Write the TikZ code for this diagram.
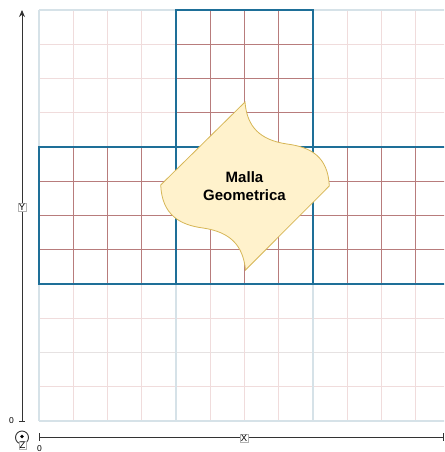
\documentclass[tikz,border=0pt]{standalone}
\usepackage{fontspec}
\setmainfont{Liberation Sans}
\usetikzlibrary{arrows.meta}
\definecolor{crossblue}{HTML}{1E6F98}
\definecolor{gridred}{HTML}{F0DCDC}
\definecolor{gridmaj}{HTML}{D6E2E8}
\definecolor{gridgrey}{HTML}{E6E2E2}
\definecolor{innerred}{HTML}{B87C7C}
\definecolor{shapefill}{HTML}{FFF2CC}
\definecolor{shapeline}{HTML}{D6B656}
\tikzset{
  minorline/.style={draw=gridred, line width=0.9pt},
  majorline/.style={draw=gridmaj, line width=1.4pt},
  greyline/.style={draw=gridgrey, line width=1.4pt},
  innerline/.style={draw=innerred, line width=1pt},
  crossline/.style={draw=crossblue, line width=2.9pt},
  axisline/.style={draw=black!80, line width=0.9pt},
  axlabel/.style={draw=gray!60, fill=white, inner sep=0.7pt, font=\fontsize{9.5}{10}\selectfont},
  ticklabel/.style={inner sep=0pt, font=\fontsize{8.5}{9}\selectfont},
  blob/.style={fill=shapefill, draw=shapeline, line width=0.8pt},
}
\begin{document}
\begin{tikzpicture}[x=1pt,y=-1pt]
\useasboundingbox (0,0) rectangle (444,452);
\begin{scope}
\clip (0,0) rectangle (444,452);
% background grid
\foreach \j in {1,...,11} {\draw[minorline] (39,10+34.25*\j) -- (460,10+34.25*\j);}
\draw[greyline] (39,352.5) -- (460,352.5);
\foreach \i in {1,2,3,5,6,7,9,10,11} {\draw[minorline] (39+34.25*\i,10) -- (39+34.25*\i,421);}
\draw[majorline] (39,10) -- (460,10);
\draw[majorline] (39,421) -- (460,421);
\draw[majorline] (39,10) -- (39,421);
\draw[majorline] (176,10) -- (176,421);
\draw[majorline] (313,10) -- (313,421);
% inner lines of the cross
\foreach \i in {5,6,7} {\draw[innerline] (39+34.25*\i,10) -- (39+34.25*\i,284);}
\foreach \j in {1,2,3} {\draw[innerline] (176,10+34.25*\j) -- (313,10+34.25*\j);}
\foreach \j in {5,6,7} {\draw[innerline] (39,10+34.25*\j) -- (460,10+34.25*\j);}
\foreach \i in {1,2,3,9,10,11} {\draw[innerline] (39+34.25*\i,147) -- (39+34.25*\i,284);}
% cross outline
\draw[crossline] (176,10) rectangle (313,284);
\draw[crossline] (39,147) rectangle (470,284);
\end{scope}
% shape
\coordinate (st) at (245,102);
\coordinate (sl) at (160.7,185);
\coordinate (sb) at (245.5,270);
\coordinate (sr) at (329.3,186);
\path[blob] (st) -- (sl)
  .. controls (162,215) and (180,225) .. (203,228)
  .. controls (230,232) and (243,245) .. (sb)
  -- (sr)
  .. controls (328,156) and (310,147) .. (287,144)
  .. controls (260,140) and (247,127) .. (st) -- cycle;
\node[align=center, font=\fontsize{15}{17.5}\selectfont\bfseries] (lbl) at (244.5,186) {Malla\\Geometrica};
% Y axis
\coordinate (y0) at (22,421);
\coordinate (y1) at (22,10);
\draw[axisline, -{Stealth[length=7pt,width=6pt]}] (y0) -- (y1);
\draw[axisline] (19,421) -- (25,421);
\node[axlabel] (ylab) at (22,207) {Y};
\node[ticklabel] (y0lab) at (11.5,420.5) {0};
% X axis
\coordinate (x0) at (39,437);
\coordinate (x1) at (443,437);
\draw[axisline] (x0) -- (x1);
\draw[axisline] (39,433) -- (39,441);
\draw[axisline] (443,433) -- (443,441);
\node[axlabel] (xlab) at (244,438) {X};
\node[ticklabel] (x0lab) at (39.5,449) {0};
% Z axis
\node[draw=black!80, line width=0.9pt, circle, minimum size=13pt, inner sep=0pt] (zc) at (22,437.5) {};
\fill[black] (22,436.5) circle (1.9pt);
\node[axlabel] (zlab) at (22.5,445) {Z};
\end{tikzpicture}
\end{document}
